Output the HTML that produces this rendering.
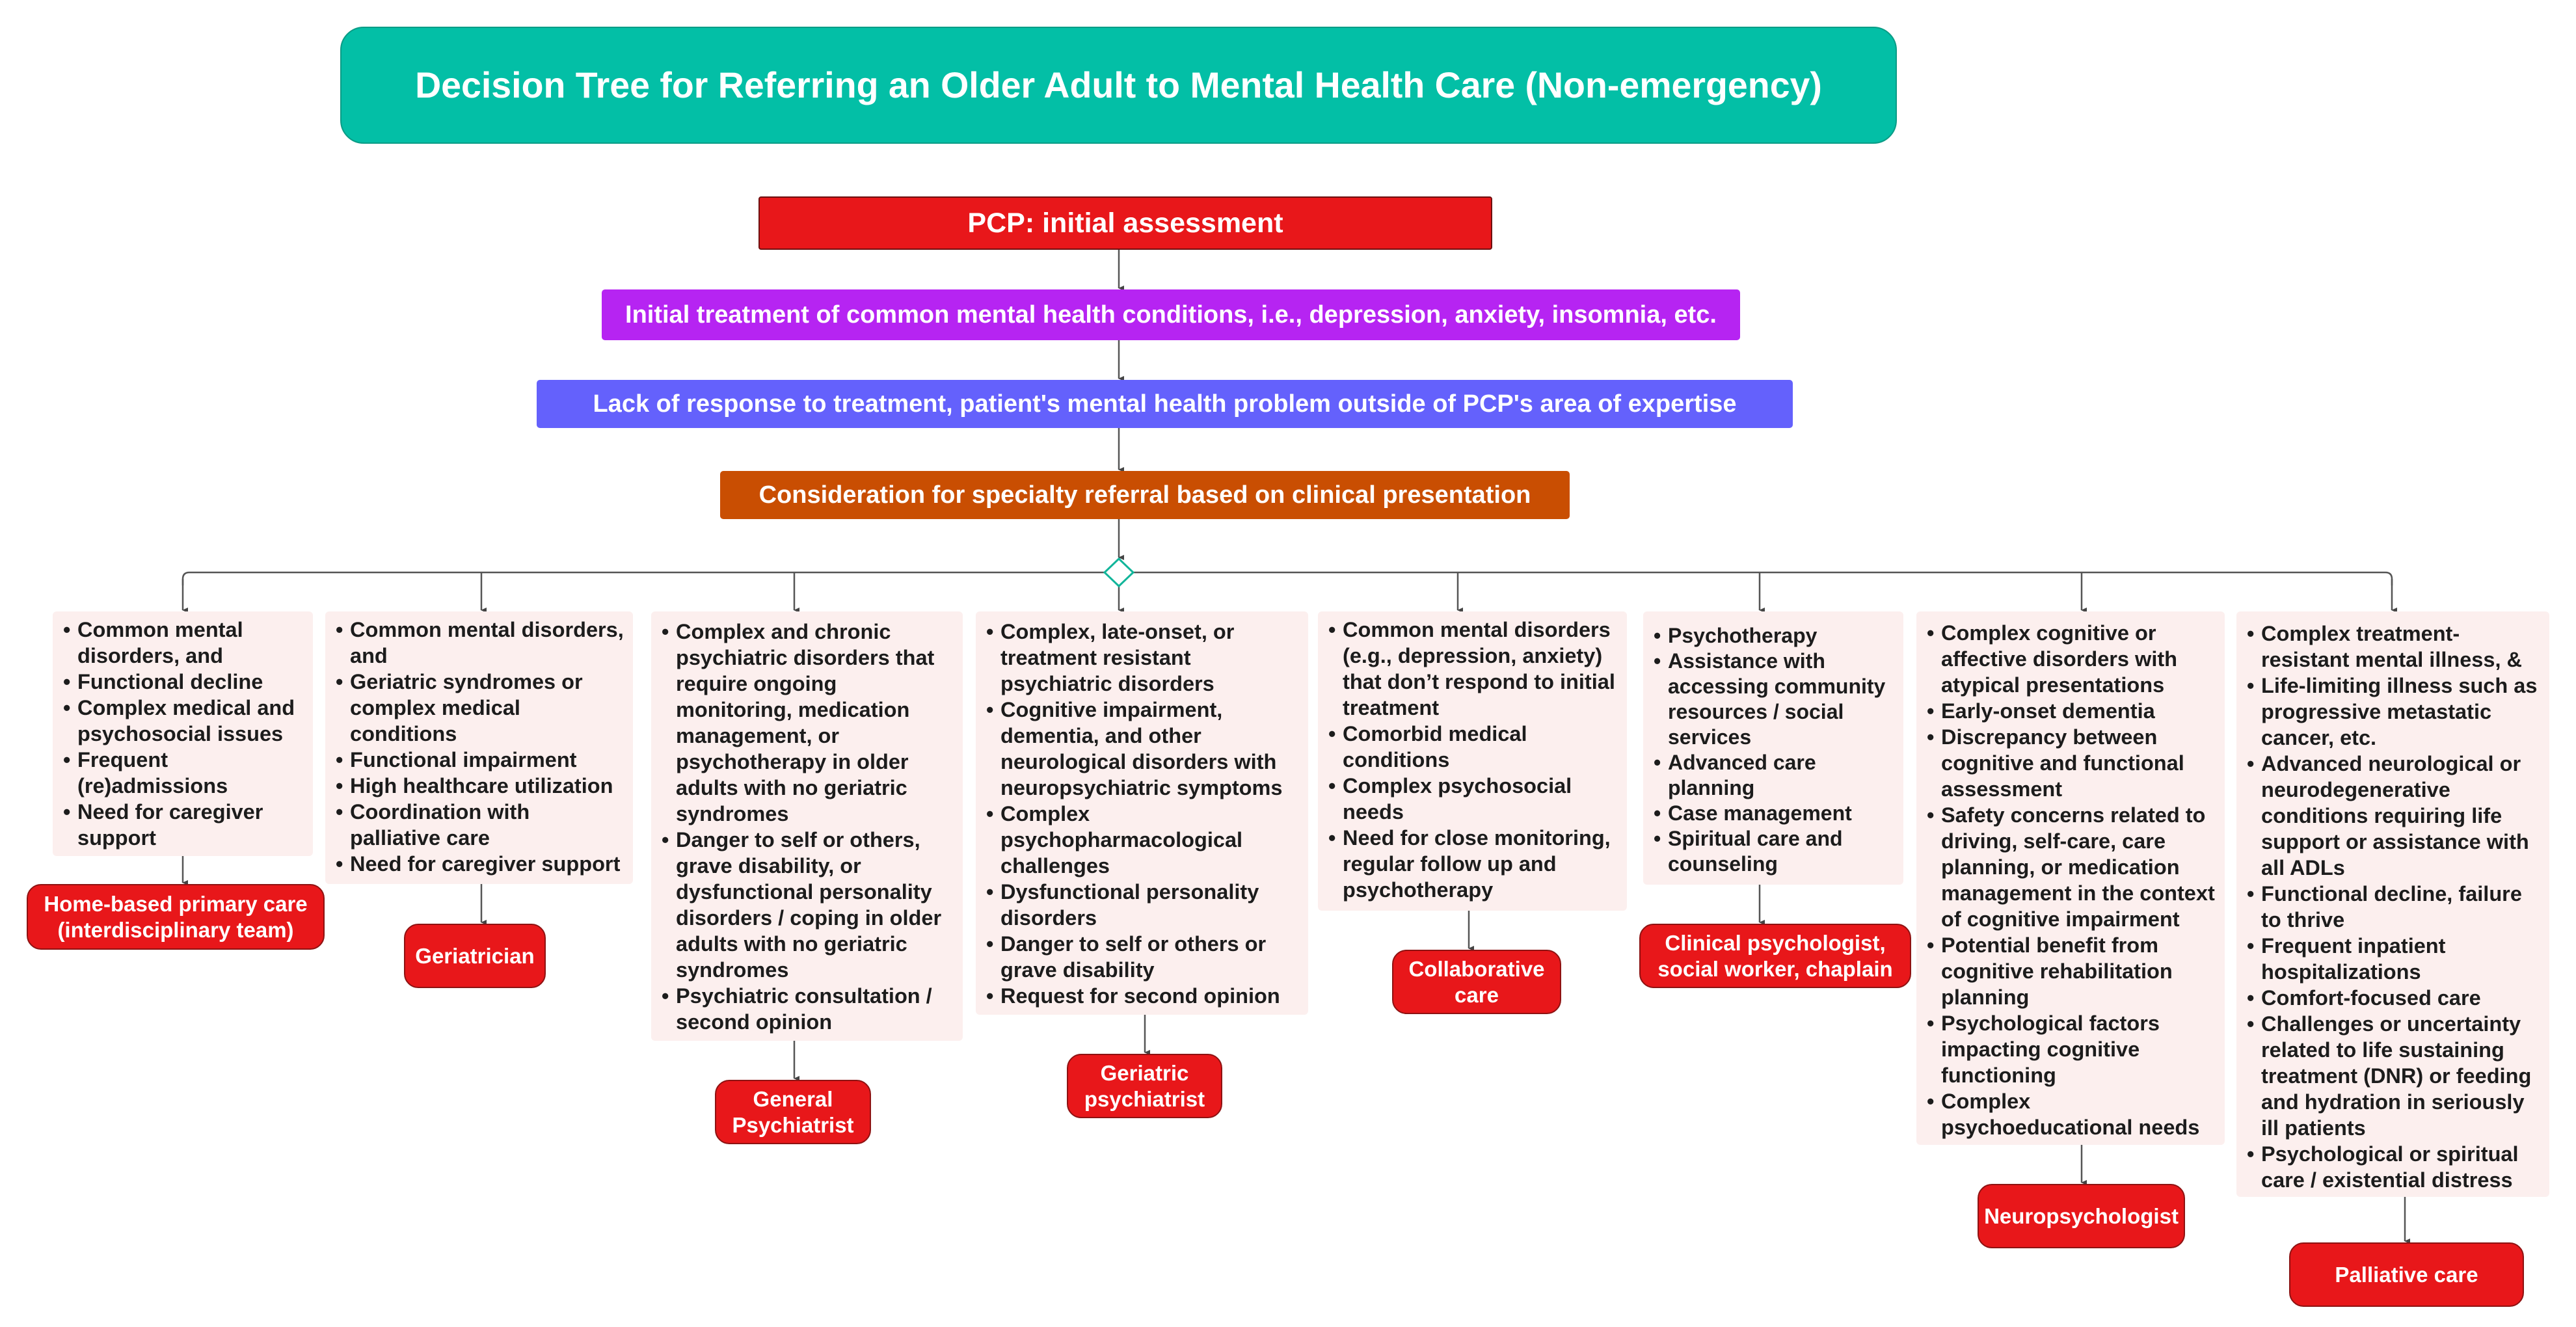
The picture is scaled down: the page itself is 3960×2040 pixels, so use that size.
<!DOCTYPE html>
<html><head><meta charset="utf-8"><style>
body{margin:0;width:3960px;height:2040px;background:#fff;position:relative;overflow:hidden;font-family:"Liberation Sans",Arial,sans-serif;font-weight:bold}
.abs{position:absolute;box-sizing:border-box}
.hdr{display:flex;align-items:center;justify-content:center;color:#fff;text-align:center}
.box{background:#fcefee;border-radius:6px;color:#1c1c1c;font-size:32.5px;line-height:40px;padding:8px 0 0 0;white-space:nowrap}
.box div{position:relative;padding-left:38px;margin-bottom:0}
.box div:before{content:"•";position:absolute;left:16px;top:0}
.leaf{background:#e8171a;border:2px solid #8e1212;border-radius:22px;color:#fff;font-size:33px;line-height:40px;display:flex;align-items:center;justify-content:center;text-align:center;white-space:nowrap}
</style></head><body>
<svg class="abs" style="left:0;top:0" width="3960" height="2040">
<defs><marker id="a" markerWidth="10" markerHeight="10" refX="5" refY="9" orient="auto" markerUnits="userSpaceOnUse"><path d="M1,1 L5,10 L9,1 Z" fill="#444"/></marker></defs>
<g stroke="#555" stroke-width="2.5" fill="none">
<line x1="1720" y1="384" x2="1720" y2="443" marker-end="url(#a)"/>
<line x1="1720" y1="523" x2="1720" y2="582" marker-end="url(#a)"/>
<line x1="1720" y1="658" x2="1720" y2="722" marker-end="url(#a)"/>
<line x1="1720" y1="798" x2="1720" y2="857" marker-end="url(#a)"/>
<path d="M281,900 L281,890 Q281,880 291,880 L3667,880 Q3677,880 3677,890 L3677,900"/>
<line x1="281" y1="890" x2="281" y2="938" marker-end="url(#a)"/>
<line x1="740" y1="880" x2="740" y2="938" marker-end="url(#a)"/>
<line x1="1221" y1="880" x2="1221" y2="938" marker-end="url(#a)"/>
<line x1="1720" y1="900" x2="1720" y2="938" marker-end="url(#a)"/>
<line x1="2241" y1="880" x2="2241" y2="938" marker-end="url(#a)"/>
<line x1="2705" y1="880" x2="2705" y2="938" marker-end="url(#a)"/>
<line x1="3200" y1="880" x2="3200" y2="938" marker-end="url(#a)"/>
<line x1="3677" y1="890" x2="3677" y2="938" marker-end="url(#a)"/>
<line x1="281" y1="1316" x2="281" y2="1357" marker-end="url(#a)"/>
<line x1="740" y1="1359" x2="740" y2="1418" marker-end="url(#a)"/>
<line x1="1221" y1="1600" x2="1221" y2="1658" marker-end="url(#a)"/>
<line x1="1760" y1="1560" x2="1760" y2="1618" marker-end="url(#a)"/>
<line x1="2258" y1="1400" x2="2258" y2="1458" marker-end="url(#a)"/>
<line x1="2705" y1="1360" x2="2705" y2="1418" marker-end="url(#a)"/>
<line x1="3200" y1="1760" x2="3200" y2="1818" marker-end="url(#a)"/>
<line x1="3697" y1="1840" x2="3697" y2="1908" marker-end="url(#a)"/>
</g>
<path d="M1720,859 L1742,880 L1720,901 L1698,880 Z" fill="#fff" stroke="#12b59a" stroke-width="3"/>
</svg>

<div class="abs hdr" style="left:523px;top:41px;width:2393px;height:180px;background:#03bfa6;border:2px solid #0a9c86;border-radius:36px;font-size:55.5px">Decision Tree for Referring an Older Adult to Mental Health Care (Non-emergency)</div>
<div class="abs hdr" style="left:1166px;top:302px;width:1128px;height:82px;background:#e8171a;border:2px solid #6e1010;border-radius:4px;font-size:43px">PCP: initial assessment</div>
<div class="abs hdr" style="left:925px;top:445px;width:1750px;height:78px;background:#b624f2;border-radius:5px;font-size:38px">Initial treatment of common mental health conditions, i.e., depression, anxiety, insomnia, etc.</div>
<div class="abs hdr" style="left:825px;top:584px;width:1931px;height:74px;background:#6461fc;border-radius:5px;font-size:38px">Lack of response to treatment, patient's mental health problem outside of PCP's area of expertise</div>
<div class="abs hdr" style="left:1107px;top:724px;width:1306px;height:74px;background:#c94e02;border-radius:5px;font-size:38px">Consideration for specialty referral based on clinical presentation</div>

<div class="abs box" style="left:81px;top:940px;width:400px;height:376px">
<div>Common mental<br>disorders, and</div><div>Functional decline</div><div>Complex medical and<br>psychosocial issues</div><div>Frequent<br>(re)admissions</div><div>Need for caregiver<br>support</div></div>
<div class="abs box" style="left:500px;top:940px;width:473px;height:419px">
<div>Common mental disorders,<br>and</div><div>Geriatric syndromes or<br>complex medical<br>conditions</div><div>Functional impairment</div><div>High healthcare utilization</div><div>Coordination with<br>palliative care</div><div>Need for caregiver support</div></div>
<div class="abs box" style="left:1001px;top:940px;width:479px;height:660px;padding-top:11px">
<div>Complex and chronic<br>psychiatric disorders that<br>require ongoing<br>monitoring, medication<br>management, or<br>psychotherapy in older<br>adults with no geriatric<br>syndromes</div><div>Danger to self or others,<br>grave disability, or<br>dysfunctional personality<br>disorders / coping in older<br>adults with no geriatric<br>syndromes</div><div>Psychiatric consultation /<br>second opinion</div></div>
<div class="abs box" style="left:1500px;top:940px;width:511px;height:620px;padding-top:11px">
<div>Complex, late-onset, or<br>treatment resistant<br>psychiatric disorders</div><div>Cognitive impairment,<br>dementia, and other<br>neurological disorders with<br>neuropsychiatric symptoms</div><div>Complex<br>psychopharmacological<br>challenges</div><div>Dysfunctional personality<br>disorders</div><div>Danger to self or others or<br>grave disability</div><div>Request for second opinion</div></div>
<div class="abs box" style="left:2026px;top:940px;width:475px;height:460px">
<div>Common mental disorders<br>(e.g., depression, anxiety)<br>that don’t respond to initial<br>treatment</div><div>Comorbid medical<br>conditions</div><div>Complex psychosocial<br>needs</div><div>Need for close monitoring,<br>regular follow up and<br>psychotherapy</div></div>
<div class="abs box" style="left:2526px;top:940px;width:400px;height:420px;padding-top:18px;line-height:39px;font-size:32px">
<div>Psychotherapy</div><div>Assistance with<br>accessing community<br>resources / social<br>services</div><div>Advanced care<br>planning</div><div>Case management</div><div>Spiritual care and<br>counseling</div></div>
<div class="abs box" style="left:2946px;top:940px;width:474px;height:820px;padding-top:13px">
<div>Complex cognitive or<br>affective disorders with<br>atypical presentations</div><div>Early-onset dementia</div><div>Discrepancy between<br>cognitive and functional<br>assessment</div><div>Safety concerns related to<br>driving, self-care, care<br>planning, or medication<br>management in the context<br>of cognitive impairment</div><div>Potential benefit from<br>cognitive rehabilitation<br>planning</div><div>Psychological factors<br>impacting cognitive<br>functioning</div><div>Complex<br>psychoeducational needs</div></div>
<div class="abs box" style="left:3438px;top:940px;width:481px;height:900px;padding-top:14px">
<div>Complex treatment-<br>resistant mental illness, &amp;</div><div>Life-limiting illness such as<br>progressive metastatic<br>cancer, etc.</div><div>Advanced neurological or<br>neurodegenerative<br>conditions requiring life<br>support or assistance with<br>all ADLs</div><div>Functional decline, failure<br>to thrive</div><div>Frequent inpatient<br>hospitalizations</div><div>Comfort-focused care</div><div>Challenges or uncertainty<br>related to life sustaining<br>treatment (DNR) or feeding<br>and hydration in seriously<br>ill patients</div><div>Psychological or spiritual<br>care / existential distress</div></div>

<div class="abs leaf" style="left:41px;top:1359px;width:458px;height:101px">Home-based primary care<br>(interdisciplinary team)</div>
<div class="abs leaf" style="left:621px;top:1420px;width:218px;height:99px">Geriatrician</div>
<div class="abs leaf" style="left:1099px;top:1660px;width:240px;height:99px">General<br>Psychiatrist</div>
<div class="abs leaf" style="left:1640px;top:1620px;width:239px;height:99px">Geriatric<br>psychiatrist</div>
<div class="abs leaf" style="left:2140px;top:1460px;width:260px;height:99px">Collaborative<br>care</div>
<div class="abs leaf" style="left:2520px;top:1420px;width:418px;height:99px">Clinical psychologist,<br>social worker, chaplain</div>
<div class="abs leaf" style="left:3040px;top:1820px;width:319px;height:99px">Neuropsychologist</div>
<div class="abs leaf" style="left:3519px;top:1910px;width:361px;height:99px">Palliative care</div>
</body></html>
